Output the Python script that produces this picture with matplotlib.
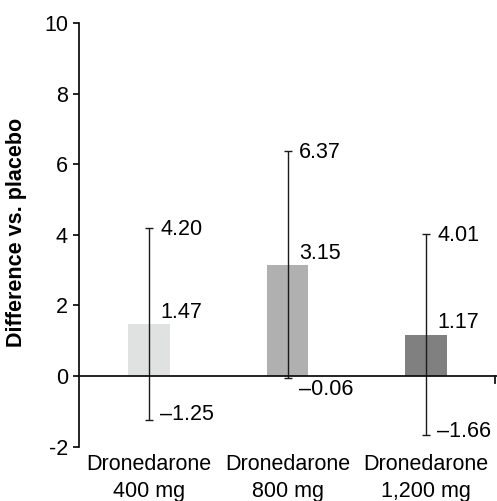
import numpy as np
import matplotlib.pyplot as plt
import matplotlib.transforms as mtransforms

plt.rcParams['font.family'] = ['Liberation Sans', 'DejaVu Sans']

# data
groups = ['Dronedarone\n400 mg', 'Dronedarone\n800 mg', 'Dronedarone\n1,200 mg']
diff = [1.47, 3.15, 1.17]
ci_low = [-1.25, -0.06, -1.66]
ci_high = [4.20, 6.37, 4.01]
bar_colors = ['#e0e2e1', '#b0b0b0', '#808080']
yticks = [-2, 0, 2, 4, 6, 8, 10]
ytick_labels = ['-2', '0', '2', '4', '6', '8', '10']

# vertical nudge (points) of the lower CI labels
low_dy = [0, -12, -1.5]

fig = plt.figure(figsize=(4.97, 5.01), dpi=100)
ax = fig.add_axes([0.159, 0.1086, 0.8404, 0.8455])

x = np.arange(len(groups))
ax.bar(x, diff, width=0.30, color=bar_colors, zorder=2)

err = [np.array(diff) - np.array(ci_low), np.array(ci_high) - np.array(diff)]
ax.errorbar(x, diff, yerr=err, fmt='none', ecolor='#1a1a1a', elinewidth=1.0,
            capsize=3, capthick=1.0, zorder=3)

ax.axhline(0, color='#111111', lw=1.3, zorder=4)
# small tick at the right end of the zero line
trans = mtransforms.blended_transform_factory(ax.transAxes, ax.transData)
ax.plot([0.997, 0.997], [0, -0.2], color='#111111', lw=1.3, transform=trans,
        clip_on=False, zorder=4)

for i in range(len(groups)):
    ax.annotate(f'{ci_high[i]:.2f}', (x[i], ci_high[i]), xytext=(8.5, -1),
                textcoords='offset points', va='center', ha='left', fontsize=15.5)
    ax.annotate(f'{diff[i]:.2f}', (x[i], diff[i]), xytext=(8.5, 4.5),
                textcoords='offset points', va='baseline', ha='left', fontsize=15.5)
    ax.annotate(f'\u2013{abs(ci_low[i]):.2f}', (x[i], ci_low[i]), xytext=(8, low_dy[i]),
                textcoords='offset points', va='baseline', ha='left', fontsize=15.5)

ax.set_xlim(-0.505, 2.51)
ax.set_ylim(-2, 10)
ax.set_yticks(yticks)
ax.set_yticklabels(ytick_labels, fontsize=15.5)
ax.set_xticks(x)
ax.set_xticklabels(groups, fontsize=15.5, linespacing=1.4)
ax.tick_params(axis='x', length=0, pad=5)
ax.tick_params(axis='y', length=4, width=1.2, pad=4)

for s in ['top', 'right', 'bottom']:
    ax.spines[s].set_visible(False)
ax.spines['left'].set_linewidth(1.2)

ax.set_ylabel('Difference vs. placebo', fontsize=15.5, fontweight='bold')
ax.yaxis.set_label_coords(-0.125, 0.505)

fig.savefig('out.png', dpi=100)
